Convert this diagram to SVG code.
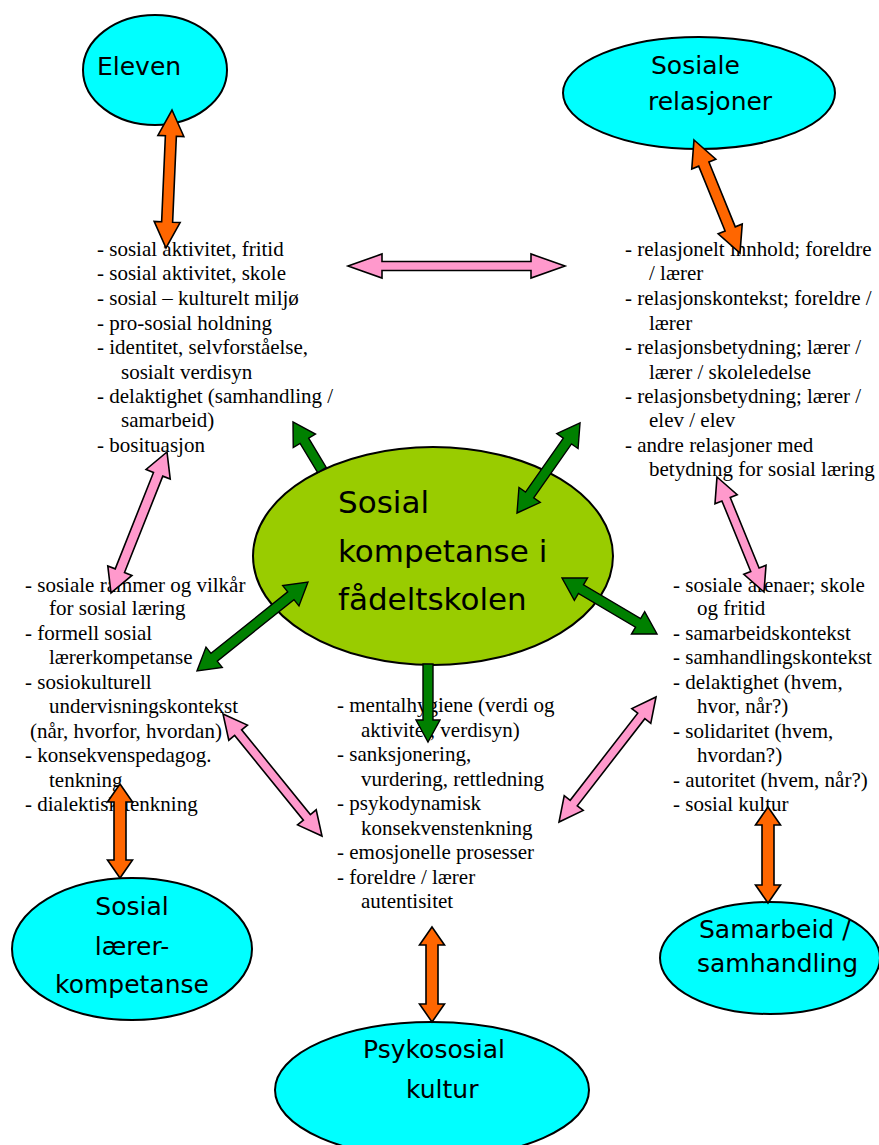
<svg xmlns="http://www.w3.org/2000/svg" width="879" height="1145" viewBox="0 0 879 1145">
<style>
.bg{fill:#ffffff}
.cyan{fill:#00ffff;stroke:#000;stroke-width:2}
.lime{fill:#99cc00;stroke:#000;stroke-width:2}
.lbl{font-family:"DejaVu Sans",sans-serif;font-size:25px;fill:#000}
.big{font-family:"DejaVu Sans",sans-serif;font-size:31px;fill:#000}
.txt{font-family:"Liberation Serif","Times New Roman",serif;font-size:21px;fill:#000}
.or{fill:#ff6600;stroke:#000;stroke-width:1.6;stroke-linejoin:miter}
.pk{fill:#ff99cc;stroke:#000;stroke-width:1.6;stroke-linejoin:miter}
.gr{fill:#008000;stroke:#000;stroke-width:1.4;stroke-linejoin:miter}
</style>
<rect class="bg" x="0" y="0" width="879" height="1145"/>

<g id="text-eleven">
<text class="txt" x="97" y="256">- sosial aktivitet, fritid</text>
<text class="txt" x="97" y="280">- sosial aktivitet, skole</text>
<text class="txt" x="97" y="305">- sosial – kulturelt miljø</text>
<text class="txt" x="97" y="330">- pro-sosial holdning</text>
<text class="txt" x="97" y="354">- identitet, selvforståelse,</text>
<text class="txt" x="121" y="379">sosialt verdisyn</text>
<text class="txt" x="97" y="403">- delaktighet (samhandling /</text>
<text class="txt" x="121" y="427">samarbeid)</text>
<text class="txt" x="97" y="452">- bosituasjon</text>
</g>

<g id="text-relasjoner">
<text class="txt" x="625" y="256">- relasjonelt innhold; foreldre</text>
<text class="txt" x="649" y="280">/ lærer</text>
<text class="txt" x="625" y="305">- relasjonskontekst; foreldre /</text>
<text class="txt" x="649" y="330">lærer</text>
<text class="txt" x="625" y="354">- relasjonsbetydning; lærer /</text>
<text class="txt" x="649" y="379">lærer / skoleledelse</text>
<text class="txt" x="625" y="403">- relasjonsbetydning; lærer /</text>
<text class="txt" x="649" y="427">elev / elev</text>
<text class="txt" x="625" y="452">- andre relasjoner med</text>
<text class="txt" x="649" y="476">betydning for sosial læring</text>
</g>

<g id="text-laerer">
<text class="txt" x="25" y="592">- sosiale rammer og vilkår</text>
<text class="txt" x="49" y="615">for sosial læring</text>
<text class="txt" x="25" y="640">- formell sosial</text>
<text class="txt" x="49" y="664">lærerkompetanse</text>
<text class="txt" x="25" y="689">- sosiokulturell</text>
<text class="txt" x="49" y="713">undervisningskontekst</text>
<text class="txt" x="30" y="738">(når, hvorfor, hvordan)</text>
<text class="txt" x="25" y="762">- konsekvenspedagog.</text>
<text class="txt" x="49" y="787">tenkning</text>
<text class="txt" x="25" y="811">- dialektisk tenkning</text>
</g>

<g id="text-psykososial">
<text class="txt" x="337" y="712">- mentalhygiene (verdi og</text>
<text class="txt" x="361" y="737">aktivitet, verdisyn)</text>
<text class="txt" x="337" y="761">- sanksjonering,</text>
<text class="txt" x="361" y="786">vurdering, rettledning</text>
<text class="txt" x="337" y="810">- psykodynamisk</text>
<text class="txt" x="361" y="835">konsekvenstenkning</text>
<text class="txt" x="337" y="859">- emosjonelle prosesser</text>
<text class="txt" x="337" y="884">- foreldre / lærer</text>
<text class="txt" x="361" y="908">autentisitet</text>
</g>

<g id="text-samarbeid">
<text class="txt" x="673" y="592">- sosiale arenaer; skole</text>
<text class="txt" x="697" y="615">og fritid</text>
<text class="txt" x="673" y="640">- samarbeidskontekst</text>
<text class="txt" x="673" y="664">- samhandlingskontekst</text>
<text class="txt" x="673" y="689">- delaktighet (hvem,</text>
<text class="txt" x="697" y="713">hvor, når?)</text>
<text class="txt" x="673" y="738">- solidaritet (hvem,</text>
<text class="txt" x="697" y="762">hvordan?)</text>
<text class="txt" x="673" y="787">- autoritet (hvem, når?)</text>
<text class="txt" x="673" y="811">- sosial kultur</text>
</g>

<g id="node-eleven">
<ellipse class="cyan" cx="155" cy="70" rx="72" ry="55"/>
<text class="lbl" x="97" y="75">Eleven</text>
</g>

<g id="node-sosiale-relasjoner">
<ellipse class="cyan" cx="699" cy="93" rx="136" ry="56"/>
<text class="lbl" x="651" y="74">Sosiale</text>
<text class="lbl" x="648" y="110">relasjoner</text>
</g>

<g id="node-sosial-kompetanse">
<ellipse class="lime" cx="433" cy="556" rx="180" ry="109"/>
<text class="big" x="338" y="513">Sosial</text>
<text class="big" x="338" y="562">kompetanse i</text>
<text class="big" x="338" y="610">fådeltskolen</text>
</g>

<g id="node-sosial-laererkompetanse">
<ellipse class="cyan" cx="132" cy="949" rx="120" ry="71"/>
<text class="lbl" x="132" y="915" text-anchor="middle">Sosial</text>
<text class="lbl" x="132" y="955" text-anchor="middle">lærer-</text>
<text class="lbl" x="132" y="993" text-anchor="middle">kompetanse</text>
</g>

<g id="node-psykososial-kultur">
<ellipse class="cyan" cx="432" cy="1090" rx="157" ry="68"/>
<text class="lbl" x="434" y="1058" text-anchor="middle">Psykososial</text>
<text class="lbl" x="406" y="1098">kultur</text>
</g>

<g id="node-samarbeid">
<ellipse class="cyan" cx="770" cy="958" rx="110" ry="56"/>
<text class="lbl" x="699" y="938">Samarbeid /</text>
<text class="lbl" x="697" y="972">samhandling</text>
</g>

<g id="connectors">
<!-- orange -->
<path class="or" transform="translate(172,110) rotate(92.49)" d="M0,0 L26,-13 L26,-5.5 L112.1,-5.5 L112.1,-13 L138.1,0 L112.1,13 L112.1,5.5 L26,5.5 L26,13 Z"/>
<path class="or" transform="translate(694,140) rotate(67.85)" d="M0,0 L26,-13 L26,-5.5 L96,-5.5 L96,-13 L122,0 L96,13 L96,5.5 L26,5.5 L26,13 Z"/>
<path class="or" transform="translate(120,784) rotate(90)" d="M0,0 L18,-12.5 L18,-6 L76,-6 L76,-12.5 L94,0 L76,12.5 L76,6 L18,6 L18,12.5 Z"/>
<path class="or" transform="translate(432,927) rotate(90)" d="M0,0 L18,-12.5 L18,-6 L77,-6 L77,-12.5 L95,0 L77,12.5 L77,6 L18,6 L18,12.5 Z"/>
<path class="or" transform="translate(768,807) rotate(90)" d="M0,0 L18,-12.5 L18,-6 L78,-6 L78,-12.5 L96,0 L78,12.5 L78,6 L18,6 L18,12.5 Z"/>
<!-- pink -->
<path class="pk" d="M348,266 L382,254 L382,261.5 L531,261.5 L531,254 L565,266 L531,278 L531,270.5 L382,270.5 L382,278 Z"/>
<path class="pk" transform="translate(167,452) rotate(111.66)" d="M0,0 L24,-13 L24,-5 L127.7,-5 L127.7,-13 L151.7,0 L127.7,13 L127.7,5 L24,5 L24,13 Z"/>
<path class="pk" transform="translate(717,477) rotate(67.77)" d="M0,0 L24,-12 L24,-4.5 L100.2,-4.5 L100.2,-12 L124.2,0 L100.2,12 L100.2,4.5 L24,4.5 L24,12 Z"/>
<path class="pk" transform="translate(223,714) rotate(50.94)" d="M0,0 L24,-12 L24,-4.5 L133.1,-4.5 L133.1,-12 L157.1,0 L133.1,12 L133.1,4.5 L24,4.5 L24,12 Z"/>
<path class="pk" transform="translate(656,697) rotate(127.81)" d="M0,0 L24,-12 L24,-4.5 L134.2,-4.5 L134.2,-12 L158.2,0 L134.2,12 L134.2,4.5 L24,4.5 L24,12 Z"/>
<!-- green -->
<path class="gr" transform="translate(322,470) rotate(-121.14)" d="M0,-5 L34.1,-5 L34.1,-13 L56.1,0 L34.1,13 L34.1,5 L0,5 Z"/>
<path class="gr" transform="translate(517,513) rotate(-55)" d="M0,0 L22,-13 L22,-5 L87.9,-5 L87.9,-13 L109.9,0 L87.9,13 L87.9,5 L22,5 L22,13 Z"/>
<path class="gr" transform="translate(308,582) rotate(141.28)" d="M0,0 L22,-13 L22,-5 L120.3,-5 L120.3,-13 L142.3,0 L120.3,13 L120.3,5 L22,5 L22,13 Z"/>
<path class="gr" transform="translate(562,578) rotate(30.52)" d="M0,0 L22,-13 L22,-5 L88.3,-5 L88.3,-13 L110.3,0 L88.3,13 L88.3,5 L22,5 L22,13 Z"/>
<path class="gr" transform="translate(428,664) rotate(90)" d="M0,-5 L56,-5 L56,-12 L78,0 L56,12 L56,5 L0,5 Z"/>
</g>
</svg>
